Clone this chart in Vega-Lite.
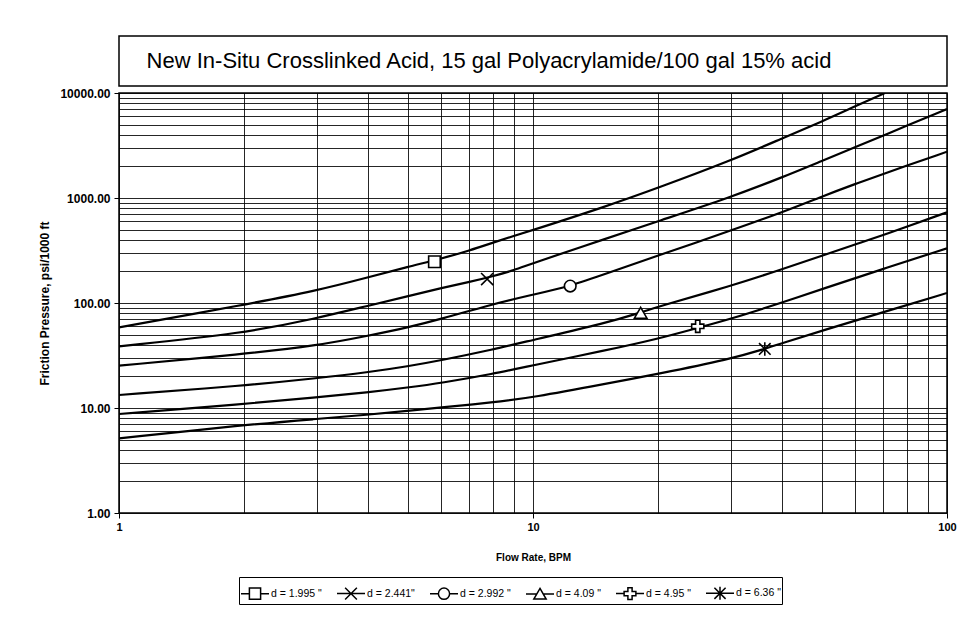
{
  "$schema": "https://vega.github.io/schema/vega-lite/v6.json",
  "background": "white",
  "padding": {"left": 38, "top": 35, "right": 8, "bottom": 5},
  "bounds": "flush",
  "spacing": 7,
  "config": {
    "font": "Liberation Sans",
    "view": {"stroke": "black", "strokeWidth": 1.5}
  },
  "datasets": {
    "curves": [
      {"series": "d = 1.995 \"", "q": 1, "p": 58.7},
      {"series": "d = 1.995 \"", "q": 2, "p": 96},
      {"series": "d = 1.995 \"", "q": 3, "p": 131},
      {"series": "d = 1.995 \"", "q": 4, "p": 176},
      {"series": "d = 1.995 \"", "q": 5, "p": 222},
      {"series": "d = 1.995 \"", "q": 6, "p": 264},
      {"series": "d = 1.995 \"", "q": 7, "p": 315},
      {"series": "d = 1.995 \"", "q": 8, "p": 375},
      {"series": "d = 1.995 \"", "q": 9, "p": 437},
      {"series": "d = 1.995 \"", "q": 10, "p": 495},
      {"series": "d = 1.995 \"", "q": 15, "p": 830},
      {"series": "d = 1.995 \"", "q": 20, "p": 1245},
      {"series": "d = 1.995 \"", "q": 30, "p": 2265},
      {"series": "d = 1.995 \"", "q": 40, "p": 3700},
      {"series": "d = 1.995 \"", "q": 50, "p": 5375},
      {"series": "d = 1.995 \"", "q": 60, "p": 7470},
      {"series": "d = 1.995 \"", "q": 70.8, "p": 10000},
      {"series": "d = 2.441\"", "q": 1, "p": 38.7},
      {"series": "d = 2.441\"", "q": 2, "p": 51.4},
      {"series": "d = 2.441\"", "q": 3, "p": 71.5},
      {"series": "d = 2.441\"", "q": 4, "p": 94.3},
      {"series": "d = 2.441\"", "q": 5, "p": 116},
      {"series": "d = 2.441\"", "q": 6, "p": 139},
      {"series": "d = 2.441\"", "q": 7, "p": 158},
      {"series": "d = 2.441\"", "q": 8, "p": 180},
      {"series": "d = 2.441\"", "q": 9, "p": 205},
      {"series": "d = 2.441\"", "q": 10, "p": 240},
      {"series": "d = 2.441\"", "q": 15, "p": 410},
      {"series": "d = 2.441\"", "q": 20, "p": 600},
      {"series": "d = 2.441\"", "q": 30, "p": 1016},
      {"series": "d = 2.441\"", "q": 40, "p": 1574},
      {"series": "d = 2.441\"", "q": 50, "p": 2265},
      {"series": "d = 2.441\"", "q": 60, "p": 3040},
      {"series": "d = 2.441\"", "q": 70, "p": 3923},
      {"series": "d = 2.441\"", "q": 100, "p": 7040},
      {"series": "d = 2.992 \"", "q": 1, "p": 25.3},
      {"series": "d = 2.992 \"", "q": 2, "p": 32.7},
      {"series": "d = 2.992 \"", "q": 3, "p": 39.2},
      {"series": "d = 2.992 \"", "q": 4, "p": 48.8},
      {"series": "d = 2.992 \"", "q": 5, "p": 58.7},
      {"series": "d = 2.992 \"", "q": 6, "p": 70.4},
      {"series": "d = 2.992 \"", "q": 8, "p": 97.8},
      {"series": "d = 2.992 \"", "q": 10, "p": 120},
      {"series": "d = 2.992 \"", "q": 12.3, "p": 145},
      {"series": "d = 2.992 \"", "q": 15, "p": 190},
      {"series": "d = 2.992 \"", "q": 20, "p": 282},
      {"series": "d = 2.992 \"", "q": 30, "p": 488},
      {"series": "d = 2.992 \"", "q": 40, "p": 731},
      {"series": "d = 2.992 \"", "q": 50, "p": 1038},
      {"series": "d = 2.992 \"", "q": 60, "p": 1360},
      {"series": "d = 2.992 \"", "q": 70, "p": 1693},
      {"series": "d = 2.992 \"", "q": 100, "p": 2760},
      {"series": "d = 4.09 \"", "q": 1, "p": 13.3},
      {"series": "d = 4.09 \"", "q": 2, "p": 16.3},
      {"series": "d = 4.09 \"", "q": 3, "p": 19.2},
      {"series": "d = 4.09 \"", "q": 4, "p": 21.9},
      {"series": "d = 4.09 \"", "q": 5, "p": 25},
      {"series": "d = 4.09 \"", "q": 6, "p": 28.5},
      {"series": "d = 4.09 \"", "q": 8, "p": 36},
      {"series": "d = 4.09 \"", "q": 10, "p": 44.5},
      {"series": "d = 4.09 \"", "q": 15, "p": 64.5},
      {"series": "d = 4.09 \"", "q": 18.2, "p": 81},
      {"series": "d = 4.09 \"", "q": 20, "p": 92},
      {"series": "d = 4.09 \"", "q": 30, "p": 145},
      {"series": "d = 4.09 \"", "q": 40, "p": 210},
      {"series": "d = 4.09 \"", "q": 50, "p": 283},
      {"series": "d = 4.09 \"", "q": 60, "p": 362},
      {"series": "d = 4.09 \"", "q": 70, "p": 440},
      {"series": "d = 4.09 \"", "q": 100, "p": 731},
      {"series": "d = 4.95 \"", "q": 1, "p": 8.77},
      {"series": "d = 4.95 \"", "q": 2, "p": 10.9},
      {"series": "d = 4.95 \"", "q": 3, "p": 12.6},
      {"series": "d = 4.95 \"", "q": 4, "p": 14.1},
      {"series": "d = 4.95 \"", "q": 5, "p": 15.7},
      {"series": "d = 4.95 \"", "q": 6, "p": 17.3},
      {"series": "d = 4.95 \"", "q": 8, "p": 21.1},
      {"series": "d = 4.95 \"", "q": 10, "p": 25.5},
      {"series": "d = 4.95 \"", "q": 15, "p": 35.4},
      {"series": "d = 4.95 \"", "q": 20, "p": 45.5},
      {"series": "d = 4.95 \"", "q": 25, "p": 58},
      {"series": "d = 4.95 \"", "q": 30, "p": 70.4},
      {"series": "d = 4.95 \"", "q": 40, "p": 101},
      {"series": "d = 4.95 \"", "q": 50, "p": 136},
      {"series": "d = 4.95 \"", "q": 70, "p": 211},
      {"series": "d = 4.95 \"", "q": 100, "p": 332},
      {"series": "d = 6.36 \"", "q": 1, "p": 5.14},
      {"series": "d = 6.36 \"", "q": 2, "p": 6.89},
      {"series": "d = 6.36 \"", "q": 3, "p": 7.86},
      {"series": "d = 6.36 \"", "q": 4, "p": 8.63},
      {"series": "d = 6.36 \"", "q": 5, "p": 9.43},
      {"series": "d = 6.36 \"", "q": 6, "p": 10.1},
      {"series": "d = 6.36 \"", "q": 8, "p": 11.3},
      {"series": "d = 6.36 \"", "q": 10, "p": 12.6},
      {"series": "d = 6.36 \"", "q": 15, "p": 17},
      {"series": "d = 6.36 \"", "q": 20, "p": 21.1},
      {"series": "d = 6.36 \"", "q": 30, "p": 29.3},
      {"series": "d = 6.36 \"", "q": 36.3, "p": 36.5},
      {"series": "d = 6.36 \"", "q": 40, "p": 41.6},
      {"series": "d = 6.36 \"", "q": 50, "p": 54.5},
      {"series": "d = 6.36 \"", "q": 70, "p": 81.5},
      {"series": "d = 6.36 \"", "q": 100, "p": 124.6}
    ],
    "markers": [
      {"series": "d = 1.995 \"", "q": 5.78, "p": 247},
      {"series": "d = 2.441\"", "q": 7.75, "p": 169},
      {"series": "d = 2.992 \"", "q": 12.3, "p": 145},
      {"series": "d = 4.09 \"", "q": 18.2, "p": 80},
      {"series": "d = 4.95 \"", "q": 25, "p": 60},
      {"series": "d = 6.36 \"", "q": 36.3, "p": 36.5}
    ]
  },
  "vconcat": [
    {
      "width": 828,
      "height": 50,
      "view": {"stroke": "black", "strokeWidth": 1.5, "fill": "white"},
      "data": {"values": [{"t": "New In-Situ Crosslinked Acid, 15 gal Polyacrylamide/100 gal 15% acid"}]},
      "mark": {"type": "text", "font": "Liberation Sans", "fontSize": 22, "dx": -44, "color": "black"},
      "encoding": {"text": {"field": "t", "type": "nominal"}}
    },
    {
      "width": 828,
      "height": 420,
      "resolve": {"scale": {"shape": "independent"}},
      "layer": [
        {
          "data": {"name": "curves"},
          "mark": {"type": "line", "interpolate": "basis", "color": "black", "strokeWidth": 2.2, "clip": true},
          "encoding": {
            "x": {
              "field": "q", "type": "quantitative",
              "scale": {"type": "log", "domain": [1, 100]},
              "axis": {
                "title": "Flow Rate, BPM",
                "titleFontSize": 10, "titleFontWeight": "bold", "titleColor": "black", "titlePadding": 20,
                "values": [1, 2, 3, 4, 5, 6, 7, 8, 9, 10, 20, 30, 40, 50, 60, 70, 80, 90, 100],
                "labelExpr": "datum.value == 1 || datum.value == 10 || datum.value == 100 ? datum.value : ''",
                "labelFontSize": 11, "labelFontWeight": "bold", "labelColor": "black", "labelPadding": 3,
                "labelFlush": false, "labelOverlap": false,
                "domain": false,
                "tickColor": "black", "tickSize": 5,
                "tickOpacity": {"condition": {"test": "datum.value == 1 || datum.value == 10 || datum.value == 100", "value": 1}, "value": 0},
                "grid": true, "gridColor": "black", "gridOpacity": 0.85, "gridWidth": 1
              }
            },
            "y": {
              "field": "p", "type": "quantitative",
              "scale": {"type": "log", "domain": [1, 10000]},
              "axis": {
                "title": "Friction Pressure, psi/1000 ft",
                "titleFontSize": 12, "titleFontWeight": "bold", "titleColor": "black", "titlePadding": 8,
                "values": [1, 2, 3, 4, 5, 6, 7, 8, 9, 10, 20, 30, 40, 50, 60, 70, 80, 90, 100, 200, 300, 400, 500, 600, 700, 800, 900, 1000, 2000, 3000, 4000, 5000, 6000, 7000, 8000, 9000, 10000],
                "labelExpr": "indexof([1, 10, 100, 1000, 10000], datum.value) >= 0 ? format(datum.value, '.2f') : ''",
                "labelFontSize": 12, "labelFontWeight": "bold", "labelColor": "black", "labelPadding": 4,
                "labelOverlap": false, "labelFlush": false,
                "domain": false,
                "tickColor": "black", "tickSize": 5,
                "tickOpacity": {"condition": {"test": "indexof([1, 10, 100, 1000, 10000], datum.value) >= 0", "value": 1}, "value": 0},
                "grid": true, "gridColor": "black", "gridOpacity": 0.85, "gridWidth": 1
              }
            },
            "detail": {"field": "series", "type": "nominal"}
          }
        },
        {
          "data": {"name": "markers"},
          "mark": {"type": "point", "filled": true, "fill": "white", "stroke": "black", "strokeWidth": 1.6, "size": 840, "opacity": 1},
          "encoding": {
            "x": {"field": "q", "type": "quantitative"},
            "y": {"field": "p", "type": "quantitative"},
            "shape": {
              "field": "series", "type": "nominal",
              "legend": null,
              "scale": {
                "domain": ["d = 1.995 \"", "d = 2.441\"", "d = 2.992 \"", "d = 4.09 \"", "d = 4.95 \"", "d = 6.36 \""],
                "range": [
                  "M-0.4,-0.4L0.4,-0.4L0.4,0.4L-0.4,0.4Z",
                  "M-0.42,-0.42L0.42,0.42M-0.42,0.42L0.42,-0.42",
                  "M-0.4,0A0.4,0.4,0,1,1,0.4,0A0.4,0.4,0,1,1,-0.4,0Z",
                  "M0,-0.4L0.44,0.36L-0.44,0.36Z",
                  "M-0.15,-0.42L0.15,-0.42L0.15,-0.15L0.42,-0.15L0.42,0.15L0.15,0.15L0.15,0.42L-0.15,0.42L-0.15,0.15L-0.42,0.15L-0.42,-0.15L-0.15,-0.15Z",
                  "M-0.4,-0.4L0.4,0.4M-0.4,0.4L0.4,-0.4M0,-0.46L0,0.46"
                ]
              }
            }
          }
        },
        {
          "data": {"name": "markers"},
          "mark": {"type": "point", "filled": false, "stroke": "black", "strokeWidth": 1.5, "size": 840, "opacity": 0},
          "encoding": {
            "x": {"field": "q", "type": "quantitative"},
            "y": {"field": "p", "type": "quantitative"},
            "shape": {
              "field": "series", "type": "nominal",
              "scale": {
                "domain": ["d = 1.995 \"", "d = 2.441\"", "d = 2.992 \"", "d = 4.09 \"", "d = 4.95 \"", "d = 6.36 \""],
                "range": [
                  "M-1,0L-0.4,0M0.4,0L1,0M-0.4,-0.4L0.4,-0.4L0.4,0.4L-0.4,0.4Z",
                  "M-1,0L1,0M-0.42,-0.42L0.42,0.42M-0.42,0.42L0.42,-0.42",
                  "M-1,0L-0.4,0M0.4,0L1,0M-0.4,0A0.4,0.4,0,1,1,0.4,0A0.4,0.4,0,1,1,-0.4,0Z",
                  "M-1,0L-0.23,0M0.23,0L1,0M0,-0.4L0.44,0.36L-0.44,0.36Z",
                  "M-1,0L-0.42,0M0.42,0L1,0M-0.15,-0.42L0.15,-0.42L0.15,-0.15L0.42,-0.15L0.42,0.15L0.15,0.15L0.15,0.42L-0.15,0.42L-0.15,0.15L-0.42,0.15L-0.42,-0.15L-0.15,-0.15Z",
                  "M-1,0L1,0M-0.4,-0.4L0.4,0.4M-0.4,0.4L0.4,-0.4M0,-0.46L0,0.46"
                ]
              },
              "legend": {
                "title": null,
                "orient": "none",
                "legendX": 120,
                "legendY": 484,
                "direction": "horizontal",
                "strokeColor": "black",
                "padding": 1,
                "symbolSize": 784,
                "labelFont": "Liberation Sans",
                "labelFontSize": 10.5,
                "labelColor": "black",
                "labelOffset": 1,
                "columnPadding": 12,
                "encode": {
                  "symbols": {
                    "update": {
                      "stroke": {"value": "black"},
                      "strokeWidth": {"value": 1.5},
                      "fill": {"value": "white"},
                      "opacity": {"value": 1}
                    }
                  }
                }
              }
            }
          }
        }
      ]
    }
  ]
}
